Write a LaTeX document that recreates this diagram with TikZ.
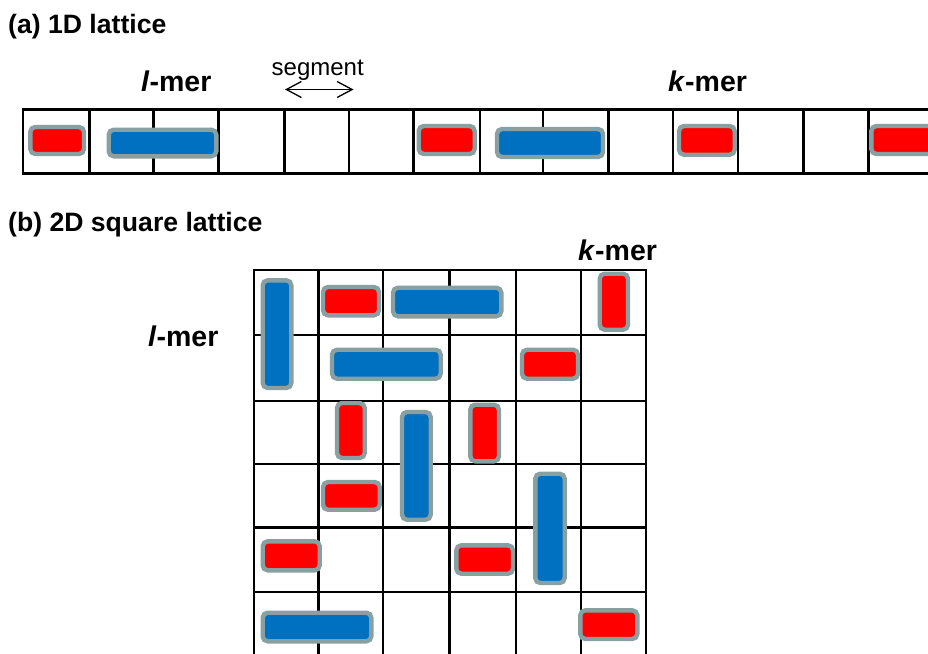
\documentclass[tikz,border=0pt]{standalone}
\usepackage{fontspec}
\setmainfont{Liberation Sans}
\usetikzlibrary{arrows.meta}
\definecolor{pred}{RGB}{255,0,0}
\definecolor{pblue}{RGB}{0,112,192}
\definecolor{pgray}{RGB}{136,160,162}
\tikzset{
  cellline/.style={line width=2.8pt, black, line cap=rect},
  redpart/.style={fill=pred, draw=pgray, line width=4.4pt, rounded corners=5pt},
  bluepart/.style={fill=pblue, draw=pgray, line width=4.4pt, rounded corners=5pt},
  titletext/.style={inner sep=0pt, anchor=base west, font=\bfseries\fontsize{26.6}{30}\selectfont},
  merlabel/.style={inner sep=0pt, anchor=base west, font=\bfseries\fontsize{28.5}{32}\selectfont},
  seglabel/.style={inner sep=0pt, anchor=base west, font=\fontsize{24}{28}\selectfont},
  segarrow/.style={line width=1.3pt, {Straight Barb[length=15pt,width=16pt]}-{Straight Barb[length=15pt,width=16pt]}},
}
\begin{document}
\begin{tikzpicture}[x=1pt,y=-1pt]
\clip (0,0) rectangle (928,653);
\fill[white] (0,0) rectangle (928,653);

% titles
\node[titletext] (ta) at (8,33.5) {(a) 1D lattice};
\node[titletext] (tb) at (8,231.5) {(b) 2D square lattice};

% 1D labels
\node[merlabel] (l1) at (141,91.5) {\textit{l}-mer};
\node[merlabel] (k1) at (668,91.5) {\textit{k}-mer};
\node[seglabel] (seg) at (271.5,75) {segment};
\coordinate (segL) at (285,89.5);
\coordinate (segR) at (353.5,89.5);
\draw[segarrow] (segL) -- (segR);

% 1D lattice
\draw[cellline] (23,109.5) -- (940,109.5) (23,173.5) -- (940,173.5);
\foreach \x in {23,89.5,153.5,218.5,284.5,349,413.5,480,543,608.5,673,738,803.5,868.5}
  \draw[cellline] (\x,109.5) -- (\x,173.5);

% 1D particles
\draw[redpart]  (30.3,127) rectangle (84,154);
\draw[bluepart] (108.7,129.7) rectangle (216.3,156.3);
\draw[redpart]  (418.7,126) rectangle (474.7,154);
\draw[bluepart] (497,129) rectangle (603,157);
\draw[redpart]  (679,126) rectangle (734.7,154.7);
\draw[redpart]  (871.3,126) rectangle (935,154);

% 2D labels
\node[merlabel] (l2) at (148,346.5) {\textit{l}-mer};
\node[merlabel] (k2) at (578,260.5) {\textit{k}-mer};

% 2D lattice
\foreach \x in {254,318.5,383,449.5,516,581,646}
  \draw[cellline] (\x,270) -- (\x,670);
\foreach \y in {270,335,401,464,527.5,592}
  \draw[cellline] (254,\y) -- (646,\y);

% 2D particles
\draw[bluepart] (262.7,280.3) rectangle (291.3,388);
\draw[redpart]  (323,287) rectangle (379,315.3);
\draw[bluepart] (393,287.7) rectangle (501.3,316.3);
\draw[redpart]  (599.7,273.7) rectangle (628,329.7);
\draw[bluepart] (332,349.7) rectangle (440.7,378.7);
\draw[redpart]  (522,349.7) rectangle (578,378.7);
\draw[redpart]  (337,403) rectangle (364.7,458);
\draw[bluepart] (402,412) rectangle (430.7,519.7);
\draw[redpart]  (470.3,404.7) rectangle (499,461.3);
\draw[redpart]  (323,482) rectangle (379.7,509.7);
\draw[bluepart] (535.3,473.7) rectangle (564.7,583);
\draw[redpart]  (262.7,541.3) rectangle (319.7,570.3);
\draw[redpart]  (456.3,545.3) rectangle (513,573.7);
\draw[bluepart] (262.7,612.7) rectangle (371.3,641.3);
\draw[redpart]  (580.3,610.3) rectangle (637.3,639);
\end{tikzpicture}
\end{document}
